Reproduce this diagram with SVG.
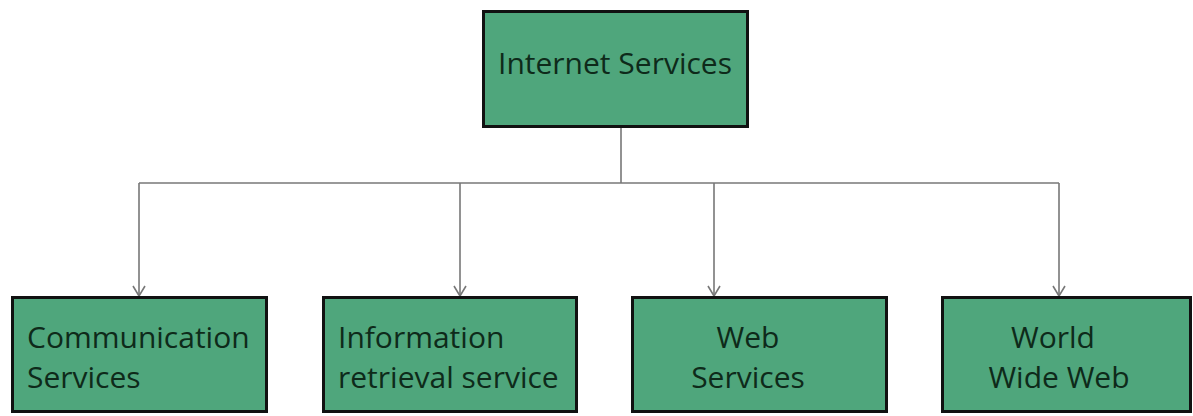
<svg xmlns="http://www.w3.org/2000/svg" width="1193" height="416" viewBox="0 0 1193 416">
<style>
.box{fill:#4fa67c;stroke:#111;stroke-width:3}
.t{font-family:"Open Sans","Noto Sans",sans-serif;font-size:30px;fill:#0e2a1a}
.c{stroke:#777;stroke-width:1.6;fill:none}
</style>
<defs>
<marker id="a" markerWidth="12" markerHeight="14" refX="11" refY="7" orient="auto" markerUnits="userSpaceOnUse" viewBox="0 0 12 14">
<path d="M1,1 L11,7 L1,13" fill="none" stroke="#777" stroke-width="1.6"/>
</marker>
</defs>
<rect width="1193" height="416" fill="#fff"/>
<g id="connectors">
<path class="c" d="M621,127 V183"/>
<path class="c" d="M139,183 H1059"/>
<path class="c" d="M139,183 V296" marker-end="url(#a)"/>
<path class="c" d="M460,183 V296" marker-end="url(#a)"/>
<path class="c" d="M714,183 V296" marker-end="url(#a)"/>
<path class="c" d="M1059,183 V296" marker-end="url(#a)"/>
</g>
<g id="internet">
<rect class="box" x="483.5" y="11.5" width="264" height="115"/>
<text class="t" x="615" y="74" text-anchor="middle">Internet Services</text>
</g>
<g id="communication">
<rect class="box" x="12.5" y="297.5" width="254" height="114"/>
<text class="t" x="27" y="348">Communication</text>
<text class="t" x="27" y="388">Services</text>
</g>
<g id="information">
<rect class="box" x="323.5" y="297.5" width="253" height="114"/>
<text class="t" x="338" y="348">Information</text>
<text class="t" x="338" y="388">retrieval service</text>
</g>
<g id="web">
<rect class="box" x="632.5" y="297.5" width="254" height="114"/>
<text class="t" x="748" y="348" text-anchor="middle">Web</text>
<text class="t" x="748" y="388" text-anchor="middle">Services</text>
</g>
<g id="www">
<rect class="box" x="942.5" y="297.5" width="248" height="114"/>
<text class="t" x="1053" y="348" text-anchor="middle">World</text>
<text class="t" x="1059" y="388" text-anchor="middle">Wide Web</text>
</g>
</svg>
